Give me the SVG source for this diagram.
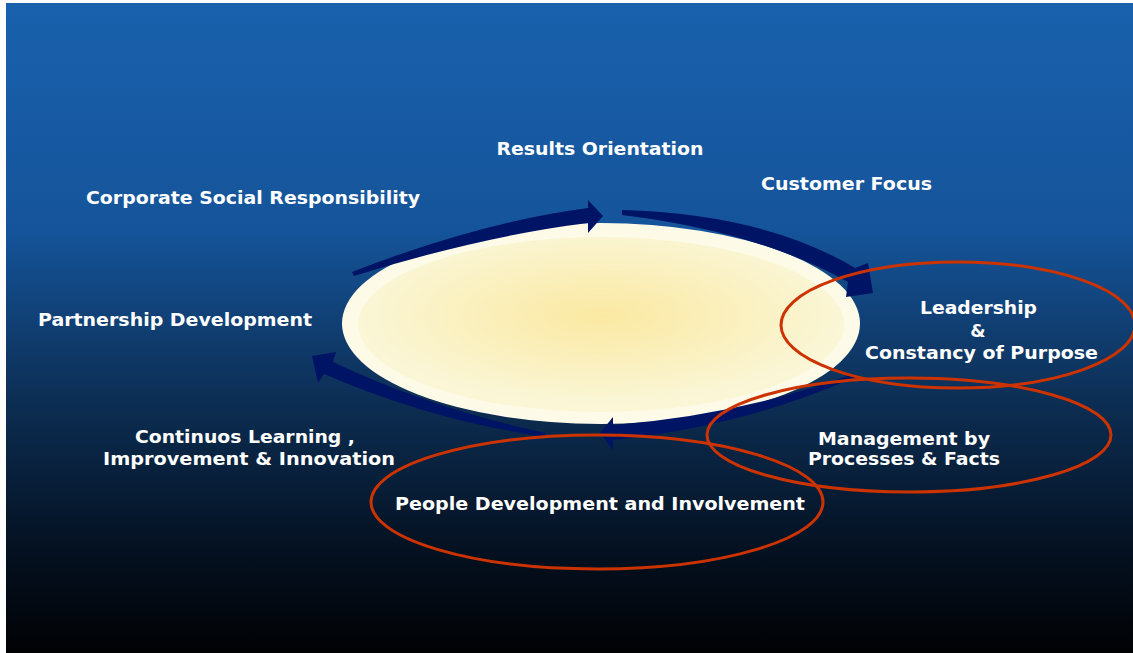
<svg xmlns="http://www.w3.org/2000/svg" width="1133" height="653" viewBox="0 0 1133 653">
  <defs>
    <linearGradient id="bg" x1="0" y1="0" x2="0" y2="1">
      <stop offset="0" stop-color="#1961ad"/>
      <stop offset="0.35" stop-color="#15549a"/>
      <stop offset="0.62" stop-color="#0c2d52"/>
      <stop offset="0.85" stop-color="#04101f"/>
      <stop offset="1" stop-color="#010204"/>
    </linearGradient>
    <radialGradient id="core" cx="0.5" cy="0.45" r="0.5">
      <stop offset="0" stop-color="#fbe9a2"/>
      <stop offset="1" stop-color="#faf6d6"/>
    </radialGradient>
    <style>
      .lbl { font-family: "DejaVu Sans", Verdana, sans-serif; font-weight: bold; font-size: 17.5px; fill: #ffffff; text-anchor: middle; }
      .arrow { fill: #001466; }
      .ring { fill: none; stroke: #cc3300; stroke-width: 3; }
    </style>
  </defs>

  <rect x="0" y="0" width="1133" height="653" fill="#ffffff"/>
  <rect x="6" y="3" width="1127" height="650" fill="url(#bg)"/>

  <g id="core-ellipse">
    <ellipse cx="601" cy="323.5" rx="259" ry="100.5" fill="#fdfbe8"/>
    <ellipse cx="601" cy="324.5" rx="243" ry="87.5" fill="url(#core)"/>
  </g>

  <g id="connectors">
    <path class="arrow" d="M 352,272 Q 480,222 588,208 L 588,200 L 603,216 L 588,233 L 588,223 Q 482,236 354,276 Z"/>
    <path class="arrow" d="M 622,210 Q 765,214 855,268 L 868,263 L 873,293 L 846,297 L 848,282 Q 760,232 622,215 Z"/>
    <path class="arrow" d="M 853,374 Q 740,415 613,425 L 613,417 L 600,433 L 613,450 L 613,440 Q 745,426 855,377 Z"/>
    <path class="arrow" d="M 545,433 Q 430,408 333,362 L 336,352 L 312,356 L 318,383 L 324,374 Q 430,420 545,437 Z"/>
  </g>

  <g id="highlight-rings">
    <ellipse class="ring" cx="958" cy="325" rx="177" ry="63"/>
    <ellipse class="ring" cx="909" cy="435" rx="202" ry="57"/>
    <ellipse class="ring" cx="597" cy="502" rx="226" ry="67"/>
  </g>

  <g id="results-orientation">
    <text class="lbl" x="600" y="155" textLength="207" lengthAdjust="spacingAndGlyphs">Results Orientation</text>
  </g>
  <g id="customer-focus">
    <text class="lbl" x="846.5" y="190" textLength="171" lengthAdjust="spacingAndGlyphs">Customer Focus</text>
  </g>
  <g id="corporate-social-responsibility">
    <text class="lbl" x="253" y="204" textLength="334" lengthAdjust="spacingAndGlyphs">Corporate Social Responsibility</text>
  </g>
  <g id="partnership-development">
    <text class="lbl" x="175" y="326" textLength="274" lengthAdjust="spacingAndGlyphs">Partnership Development</text>
  </g>
  <g id="leadership">
    <text class="lbl" x="978.5" y="314" textLength="117" lengthAdjust="spacingAndGlyphs">Leadership</text>
    <text class="lbl" x="978" y="337">&amp;</text>
    <text class="lbl" x="981.5" y="359" textLength="233" lengthAdjust="spacingAndGlyphs">Constancy of Purpose</text>
  </g>
  <g id="continuous-learning">
    <text class="lbl" x="245" y="443" textLength="220" lengthAdjust="spacingAndGlyphs">Continuos Learning ,</text>
    <text class="lbl" x="249" y="465" textLength="292" lengthAdjust="spacingAndGlyphs">Improvement &amp; Innovation</text>
  </g>
  <g id="management">
    <text class="lbl" x="904" y="445" textLength="172" lengthAdjust="spacingAndGlyphs">Management by</text>
    <text class="lbl" x="904" y="465" textLength="192" lengthAdjust="spacingAndGlyphs">Processes &amp; Facts</text>
  </g>
  <g id="people-development">
    <text class="lbl" x="600" y="510" textLength="410" lengthAdjust="spacingAndGlyphs">People Development and Involvement</text>
  </g>
</svg>
